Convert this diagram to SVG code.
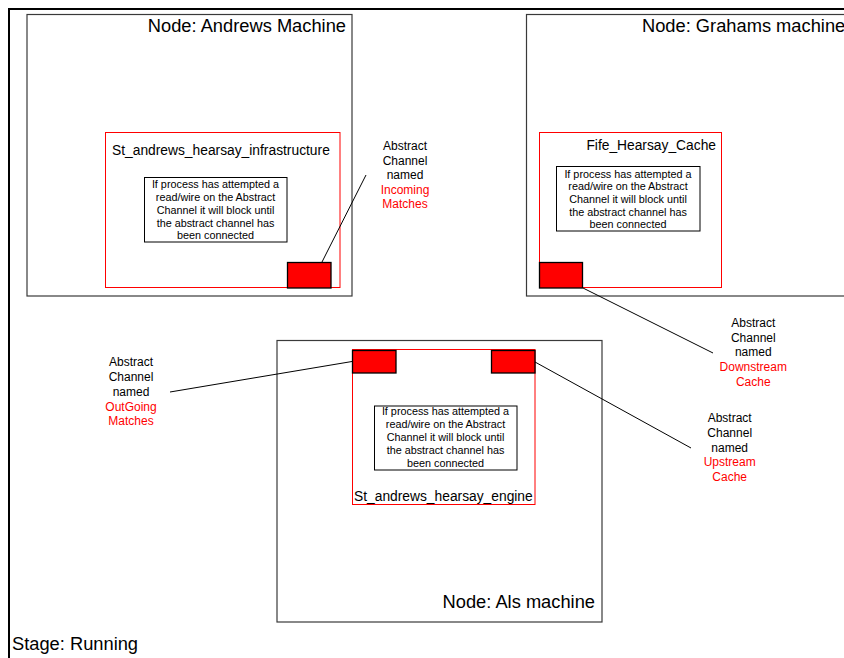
<svg xmlns="http://www.w3.org/2000/svg" width="844" height="658" viewBox="0 0 844 658">
<style>
text{font-family:"Liberation Sans",Arial,sans-serif;fill:#000}
.node{fill:none;stroke:#3a3a3a;stroke-width:1.2}
.proc{fill:none;stroke:#ff0000;stroke-width:1}
.note{fill:#fff;stroke:#000;stroke-width:1}
.chan{fill:#ff0000;stroke:#000;stroke-width:1.3}
.title{font-size:18.3px}
.plabel{font-size:13.8px}
.ntext{font-size:10.8px;text-anchor:middle}
.clabel{font-size:12px;text-anchor:middle}
.red{fill:#ff0000}
.conn{stroke:#000;stroke-width:1;fill:none}
</style>
<rect width="844" height="658" fill="#fff"/>
<g id="frame">
<path d="M9,658 V9 H844" fill="none" stroke="#000" stroke-width="2"/>
<text x="12" y="650" class="title">Stage: Running</text>
</g>
<g id="andrews">
<rect x="27" y="14.5" width="325" height="281.5" class="node"/>
<text x="346" y="31.5" class="title" text-anchor="end">Node: Andrews Machine</text>
<g id="st_andrews_infra">
<rect x="105.5" y="132.5" width="234.5" height="155" class="proc"/>
<text x="112" y="154.5" class="plabel">St_andrews_hearsay_infrastructure</text>
<rect x="144.5" y="177.5" width="142.5" height="64.5" class="note"/>
<text class="ntext"><tspan x="215.5" y="188.3">If process has attempted a</tspan><tspan x="215.5" y="201">read/wire on the Abstract</tspan><tspan x="215.5" y="213.8">Channel it will block until</tspan><tspan x="215.5" y="226.5">the abstract channel has</tspan><tspan x="215.5" y="239.3">been connected</tspan></text>
<rect id="incoming" x="287.5" y="262.5" width="43.5" height="25.5" class="chan"/>
</g>
</g>
<g id="grahams">
<rect x="526.5" y="14.5" width="330" height="281.5" class="node"/>
<text x="642" y="31.5" class="title">Node: Grahams machine</text>
<g id="fife_cache">
<rect x="539.5" y="132.5" width="182" height="155" class="proc"/>
<text x="716" y="150" class="plabel" text-anchor="end">Fife_Hearsay_Cache</text>
<rect x="556.5" y="166.5" width="143.5" height="64.5" class="note"/>
<text class="ntext"><tspan x="628" y="177.6">If process has attempted a</tspan><tspan x="628" y="190.2">read/wire on the Abstract</tspan><tspan x="628" y="202.9">Channel it will block until</tspan><tspan x="628" y="215.5">the abstract channel has</tspan><tspan x="628" y="228.2">been connected</tspan></text>
<rect id="downstream" x="539.5" y="262.5" width="43" height="25.5" class="chan"/>
</g>
</g>
<g id="als">
<rect x="277" y="340.5" width="325" height="281.5" class="node"/>
<text x="595" y="608.3" class="title" text-anchor="end">Node: Als machine</text>
<g id="st_andrews_engine">
<rect x="352.5" y="349.5" width="182.5" height="155" class="proc"/>
<text x="354" y="501" class="plabel">St_andrews_hearsay_engine</text>
<rect x="374.5" y="406" width="142.5" height="64" class="note"/>
<text class="ntext"><tspan x="445.5" y="415">If process has attempted a</tspan><tspan x="445.5" y="428">read/wire on the Abstract</tspan><tspan x="445.5" y="441">Channel it will block until</tspan><tspan x="445.5" y="454">the abstract channel has</tspan><tspan x="445.5" y="467">been connected</tspan></text>
<rect id="outgoing" x="352.5" y="350.5" width="43.5" height="22.5" class="chan"/>
<rect id="upstream" x="491.5" y="350.5" width="43.5" height="22.5" class="chan"/>
</g>
</g>
<g id="labels">
<text class="clabel" id="lbl_incoming"><tspan x="405" y="150.3">Abstract</tspan><tspan x="405" y="164.8">Channel</tspan><tspan x="405" y="179.3">named</tspan><tspan x="405" y="194" class="red">Incoming</tspan><tspan x="405" y="208" class="red">Matches</tspan></text>
<text class="clabel" id="lbl_downstream"><tspan x="753.3" y="327">Abstract</tspan><tspan x="753.3" y="342">Channel</tspan><tspan x="753.3" y="356">named</tspan><tspan x="753.3" y="371" class="red">Downstream</tspan><tspan x="753.3" y="386" class="red">Cache</tspan></text>
<text class="clabel" id="lbl_outgoing"><tspan x="131" y="366">Abstract</tspan><tspan x="131" y="381">Channel</tspan><tspan x="131" y="396">named</tspan><tspan x="131" y="410.8" class="red">OutGoing</tspan><tspan x="131" y="425" class="red">Matches</tspan></text>
<text class="clabel" id="lbl_upstream"><tspan x="729.7" y="421.5">Abstract</tspan><tspan x="729.7" y="436.8">Channel</tspan><tspan x="729.7" y="451.8">named</tspan><tspan x="729.7" y="466.2" class="red">Upstream</tspan><tspan x="729.7" y="481" class="red">Cache</tspan></text>
</g>
<g id="connectors">
<line x1="322" y1="262" x2="366" y2="175" class="conn"/>
<line x1="583" y1="288" x2="713" y2="353" class="conn"/>
<line x1="352" y1="361.5" x2="170" y2="392" class="conn"/>
<line x1="535" y1="362" x2="691" y2="448" class="conn"/>
</g>
</svg>
